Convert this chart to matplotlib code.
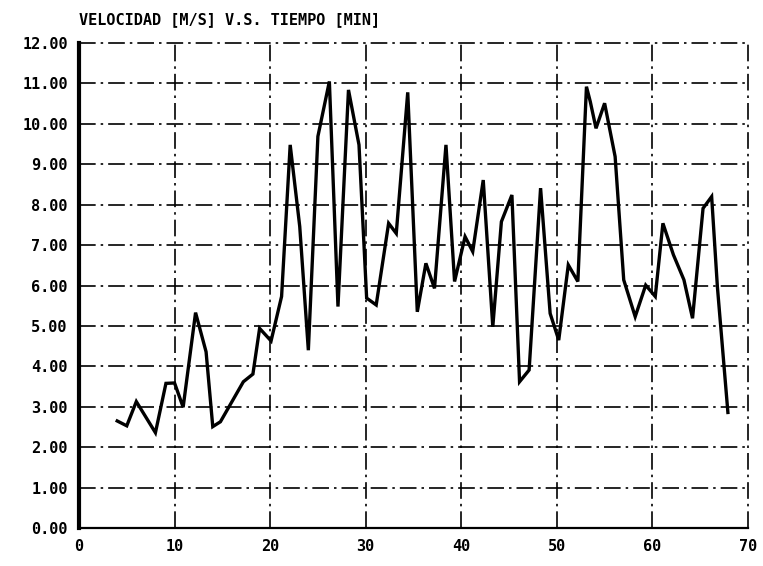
import numpy as np
import matplotlib as mpl
mpl.use('Agg')
import matplotlib.pyplot as plt

# tiempo [min] y velocidad [m/s]
tiempo = [4, 5, 6, 8, 9.1, 10, 10.9, 12.2, 13.3, 14, 14.8, 17.2, 18.2, 18.9, 20.1,
          21.2, 22.1, 23.1, 24, 25, 26.2, 27.1, 28.2, 29.3, 30.1, 31.1, 32.4, 33.2,
          34.4, 35.4, 36.3, 37.2, 38.4, 39.3, 40.4, 41.2, 42.3, 43.3, 44.2, 45.3,
          46.1, 47.1, 48.3, 49.3, 50.2, 51.2, 52.2, 53.1, 53.5, 54.1, 55.0, 56.1,
          57.0, 58.2, 59.3, 60.3, 61.1, 62.2, 63.3, 64.2, 65.3, 66.2, 66.8, 67.9]
velocidad = [2.65, 2.53, 3.13, 2.36, 3.58, 3.59, 2.99, 5.33, 4.36, 2.51, 2.63, 3.62, 3.81,
             4.94, 4.63, 5.73, 9.48, 7.46, 4.40, 9.69, 11.05, 5.48, 10.84, 9.48, 5.69,
             5.52, 7.54, 7.29, 10.78, 5.35, 6.55, 5.93, 9.48, 6.10, 7.21, 6.84, 8.61,
             4.98, 7.58, 8.24, 3.62, 3.91, 8.41, 5.31, 4.65, 6.51, 6.10, 10.92, 10.55,
             9.89, 10.51, 9.19, 6.14, 5.23, 6.01, 5.73, 7.54, 6.76, 6.14, 5.19, 7.91,
             8.20, 5.97, 2.86]

xticks = np.arange(0, 71, 10)
yticks = np.arange(0, 12.01, 1)

plt.rcParams['font.family'] = 'DejaVu Sans Mono'
plt.rcParams['font.weight'] = 'bold'

fig = plt.figure(figsize=(7.63, 5.66), dpi=100)
ax = fig.add_axes([0.1035, 0.067, 0.8768, 0.857])

ax.plot(tiempo, velocidad, '-', color='black', lw=2.4, solid_joinstyle='miter')

ax.set_xlim(0, 70)
ax.set_ylim(0, 12)
ax.set_xticks(xticks)
ax.set_yticks(yticks)
ax.set_xticklabels([f'{int(t)}' for t in xticks])
ax.set_yticklabels([f'{v:.2f}' for v in yticks])
ax.tick_params(length=0, labelsize=11, pad=8)

grid_ls = (0, (10, 3, 1.5, 3))
for v in yticks[1:]:
    ax.axhline(v, color='black', lw=1.2, ls=grid_ls, clip_on=False, zorder=1)
for t in xticks[1:]:
    ax.axvline(t, color='black', lw=1.2, ls=grid_ls, clip_on=False, zorder=1)

for s in ['top', 'right']:
    ax.spines[s].set_visible(False)
ax.spines['left'].set_linewidth(3)
ax.spines['bottom'].set_linewidth(1.6)

fig.text(0.104, 0.965, 'VELOCIDAD [M/S] V.S. TIEMPO [MIN]', fontsize=11,
         fontweight='bold', ha='left', va='center')

fig.savefig('out.png', dpi=100)
